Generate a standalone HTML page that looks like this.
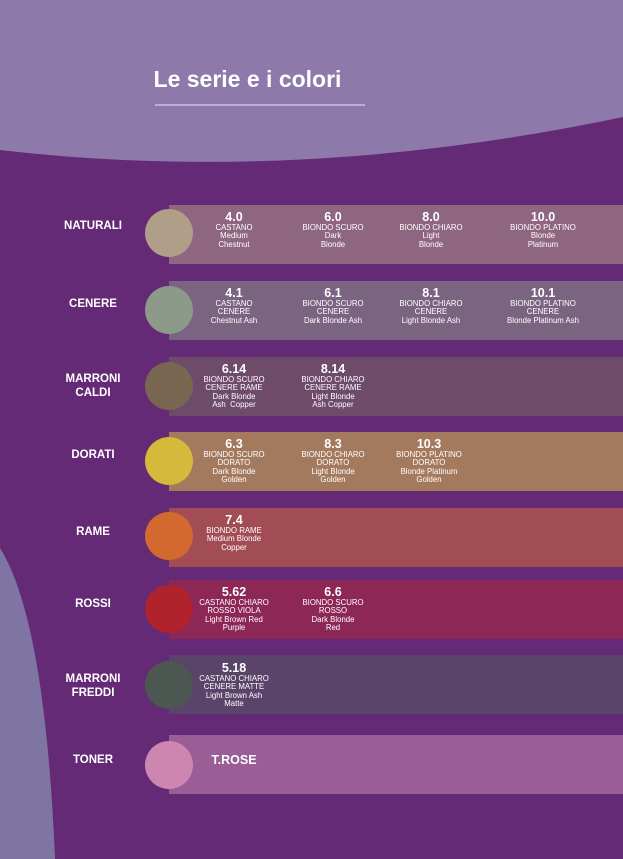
<!DOCTYPE html>
<html><head><meta charset="utf-8"><style>
*{margin:0;padding:0}
body{width:623px;height:859px;overflow:hidden;background:#652a76;position:relative;font-family:"Liberation Sans",sans-serif;color:#fff}
.band{position:absolute;left:169px;width:454px;height:59px}
.circ{position:absolute;left:145px;width:48px;height:48px;border-radius:50%}
.lab{position:absolute;left:43px;width:100px;text-align:center;font-weight:bold;font-size:11.5px;line-height:14px}
.c{position:absolute;width:120px;text-align:center;font-size:7.8px;line-height:8.3px}
.c b{display:block;font-size:12.5px;line-height:13px}
</style></head><body>
<svg width="623" height="859" style="position:absolute;left:0;top:0">
<path d="M0,0 H623 V117 Q300,185 0,150 Z" fill="#8d7aab"/>
<path d="M0,548 Q45,620 55,859 H0 Z" fill="#7f75a3"/>
<line x1="155" y1="105" x2="365" y2="105" stroke="#d8cfe6" stroke-width="1.2"/>
</svg>
<div style="position:absolute;left:130px;width:235px;top:66px;text-align:center;font-size:23px;font-weight:bold">Le serie e i colori</div>

<div class="band" style="top:205px;background:#8f667f"></div><div class="circ" style="top:209px;background:#b09e89"></div>
<div class="lab" style="top:219px">NATURALI</div>
<div class="c" style="left:174px;top:211px"><b>4.0</b>CASTANO<br>Medium<br>Chestnut</div>
<div class="c" style="left:273px;top:211px"><b>6.0</b>BIONDO SCURO<br>Dark<br>Blonde</div>
<div class="c" style="left:371px;top:211px"><b>8.0</b>BIONDO CHIARO<br>Light<br>Blonde</div>
<div class="c" style="left:483px;top:211px"><b>10.0</b>BIONDO PLATINO<br>Blonde<br>Platinum</div>

<div class="band" style="top:281px;background:#7b6482"></div><div class="circ" style="top:286px;background:#8d9a8a"></div>
<div class="lab" style="top:297px">CENERE</div>
<div class="c" style="left:174px;top:287px"><b>4.1</b>CASTANO<br>CENERE<br>Chestnut Ash</div>
<div class="c" style="left:273px;top:287px"><b>6.1</b>BIONDO SCURO<br>CENERE<br>Dark Blonde Ash</div>
<div class="c" style="left:371px;top:287px"><b>8.1</b>BIONDO CHIARO<br>CENERE<br>Light Blonde Ash</div>
<div class="c" style="left:483px;top:287px"><b>10.1</b>BIONDO PLATINO<br>CENERE<br>Blonde Platinum Ash</div>

<div class="band" style="top:357px;background:#6e4a6b"></div><div class="circ" style="top:362px;background:#786651"></div>
<div class="lab" style="top:372px">MARRONI<br>CALDI</div>
<div class="c" style="left:174px;top:363px"><b>6.14</b>BIONDO SCURO<br>CENERE RAME<br>Dark Blonde<br>Ash&nbsp; Copper</div>
<div class="c" style="left:273px;top:363px"><b>8.14</b>BIONDO CHIARO<br>CENERE RAME<br>Light Blonde<br>Ash Copper</div>

<div class="band" style="top:432px;background:#a47a5e"></div><div class="circ" style="top:437px;background:#d4b93a"></div>
<div class="lab" style="top:448px">DORATI</div>
<div class="c" style="left:174px;top:438px"><b>6.3</b>BIONDO SCURO<br>DORATO<br>Dark Blonde<br>Golden</div>
<div class="c" style="left:273px;top:438px"><b>8.3</b>BIONDO CHIARO<br>DORATO<br>Light Blonde<br>Golden</div>
<div class="c" style="left:369px;top:438px"><b>10.3</b>BIONDO PLATINO<br>DORATO<br>Blonde Platinum<br>Golden</div>

<div class="band" style="top:508px;background:#a24d54"></div><div class="circ" style="top:512px;background:#d4692f"></div>
<div class="lab" style="top:525px">RAME</div>
<div class="c" style="left:174px;top:514px"><b>7.4</b>BIONDO RAME<br>Medium Blonde<br>Copper</div>

<div class="band" style="top:580px;background:#8d2755"></div><div class="circ" style="top:585px;background:#b0232d"></div>
<div class="lab" style="top:597px">ROSSI</div>
<div class="c" style="left:174px;top:586px"><b>5.62</b>CASTANO CHIARO<br>ROSSO VIOLA<br>Light Brown Red<br>Purple</div>
<div class="c" style="left:273px;top:586px"><b>6.6</b>BIONDO SCURO<br>ROSSO<br>Dark Blonde<br>Red</div>

<div class="band" style="top:655px;background:#5a4469"></div><div class="circ" style="top:661px;background:#4b5750"></div>
<div class="lab" style="top:672px">MARRONI<br>FREDDI</div>
<div class="c" style="left:174px;top:662px"><b>5.18</b>CASTANO CHIARO<br>CENERE MATTE<br>Light Brown Ash<br>Matte</div>

<div class="band" style="top:735px;background:#9a5d95"></div><div class="circ" style="top:741px;background:#cc86b0"></div>
<div class="lab" style="top:753px">TONER</div>
<div style="position:absolute;left:174px;width:120px;top:753px;text-align:center;font-weight:bold;font-size:12.5px">T.ROSE</div>
</body></html>
